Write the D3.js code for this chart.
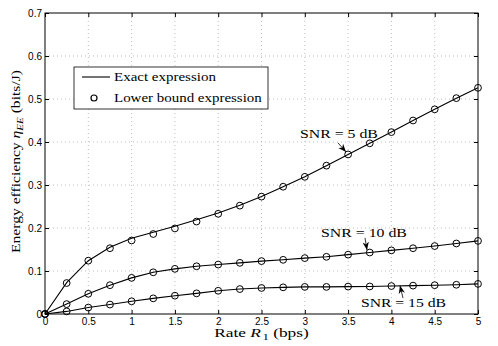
<!DOCTYPE html>
<html>
<head>
<meta charset="utf-8">
<script src="https://cdn.jsdelivr.net/npm/d3@7"></script>
<style>
  body { margin: 0; background: #fff; }
  .tick text { font-family: "Liberation Sans", Arial, sans-serif; font-size: 10px; }
  .lab { font-family: "Liberation Serif", "DejaVu Serif", serif; }
</style>
</head>
<body>
<div class="js-vis"></div>
<script>
// rate R1 (bps)
const rates = [0, 0.25, 0.5, 0.75, 1, 1.25, 1.5, 1.75, 2, 2.25, 2.5, 2.75, 3, 3.25, 3.5, 3.75, 4, 4.25, 4.5, 4.75, 5]

// exact expression (lines)
const exact5 = [0, 0.073, 0.124, 0.155, 0.176, 0.190, 0.204, 0.219, 0.235, 0.253, 0.273, 0.296, 0.319, 0.345, 0.371, 0.397, 0.423, 0.450, 0.476, 0.502, 0.526]
const exact10 = [0, 0.023, 0.047, 0.067, 0.084, 0.097, 0.105, 0.111, 0.115, 0.119, 0.123, 0.126, 0.130, 0.133, 0.138, 0.143, 0.148, 0.153, 0.158, 0.164, 0.170]
const exact15 = [0, 0.006, 0.015, 0.022, 0.0295, 0.0364, 0.0426, 0.048, 0.054, 0.058, 0.0605, 0.062, 0.063, 0.063, 0.0637, 0.064, 0.065, 0.066, 0.067, 0.068, 0.070]

// lower bound expression (circles)
const lower5 = [0, 0.072, 0.124, 0.153, 0.171, 0.186, 0.199, 0.215, 0.233, 0.252, 0.273, 0.296, 0.319, 0.345, 0.371, 0.397, 0.423, 0.450, 0.476, 0.502, 0.526]
const lower10 = exact10
const lower15 = exact15

const xTicks = [0, 0.5, 1, 1.5, 2, 2.5, 3, 3.5, 4, 4.5, 5]
const yTicks = [0, 0.1, 0.2, 0.3, 0.4, 0.5, 0.6, 0.7]

const series = [
  { name: "SNR = 5 dB", exact: exact5, lower: lower5 },
  { name: "SNR = 10 dB", exact: exact10, lower: lower10 },
  { name: "SNR = 15 dB", exact: exact15, lower: lower15 }
]

const ewidth = 498, eheight = 346
const margin = { top: 13, right: 20, bottom: 32, left: 45 },
    width = ewidth - margin.left - margin.right,
    height = eheight - margin.top - margin.bottom

const x = d3.scaleLinear().domain([0, 5]).range([0, width])
const y = d3.scaleLinear().domain([0, 0.7]).range([height, 0])

const svg = d3.select(".js-vis").append("svg")
  .attr("width", ewidth)
  .attr("height", eheight)

// the original text is set wide, so stretch each label to its measured width
function stretch(t, w) {
  const bw = t.node().getBBox().width
  t.attr("transform", (t.attr("transform") || "") + " scale(" + (w / bw) + ",1)")
}

const vis = svg.append("g")
  .attr("transform", "translate(" + margin.left + "," + margin.top + ")")

// grid
vis.append("g").selectAll("line")
  .data(xTicks.slice(1, -1))
.enter().append("line")
  .attr("x1", d => x(d)).attr("x2", d => x(d))
  .attr("y1", 0).attr("y2", height)
  .attr("stroke", "#b0b0b0").attr("stroke-width", 0.8).attr("stroke-dasharray", "1,3")
vis.append("g").selectAll("line")
  .data(yTicks.slice(1, -1))
.enter().append("line")
  .attr("y1", d => y(d)).attr("y2", d => y(d))
  .attr("x1", 0).attr("x2", width)
  .attr("stroke", "#b0b0b0").attr("stroke-width", 0.8).attr("stroke-dasharray", "1,3")

// axes (ticks inward, matlab style)
const fmt = d => d === 0 ? "0" : String(d)
vis.append("g")
  .attr("transform", "translate(0," + height + ")")
  .call(d3.axisBottom(x).tickValues(xTicks).tickFormat(fmt).tickSizeInner(-4).tickSizeOuter(0).tickPadding(4))
vis.append("g")
  .call(d3.axisTop(x).tickValues(xTicks).tickFormat("").tickSizeInner(-4).tickSizeOuter(0))
vis.append("g")
  .call(d3.axisLeft(y).tickValues(yTicks).tickFormat(fmt).tickSizeInner(-4).tickSizeOuter(0).tickPadding(3))
vis.append("g")
  .attr("transform", "translate(" + width + ",0)")
  .call(d3.axisRight(y).tickValues(yTicks).tickFormat("").tickSizeInner(-4).tickSizeOuter(0))
vis.selectAll(".domain").remove()
vis.append("rect")
  .attr("width", width).attr("height", height)
  .attr("fill", "none").attr("stroke", "#000").attr("stroke-width", 1)

// lines and markers
const line = d3.line()
  .x((d, i) => x(rates[i]))
  .y(d => y(d))

series.forEach(s => {
  vis.append("path")
    .datum(s.exact)
    .attr("d", line)
    .attr("fill", "none")
    .attr("stroke", "#000")
    .attr("stroke-width", 1.1)
  vis.append("g").selectAll("circle")
    .data(s.lower)
  .enter().append("circle")
    .attr("cx", (d, i) => x(rates[i]))
    .attr("cy", d => y(d))
    .attr("r", 3.4)
    .attr("fill", "none")
    .attr("stroke", "#000")
    .attr("stroke-width", 1)
})

// annotations
svg.append("defs").append("marker")
  .attr("id", "arr")
  .attr("viewBox", "0 0 10 10")
  .attr("refX", 10).attr("refY", 5)
  .attr("markerWidth", 8).attr("markerHeight", 8)
  .attr("markerUnits", "userSpaceOnUse")
  .attr("orient", "auto")
.append("path")
  .attr("d", "M0,1 L10,5 L0,9 L3,5 z")
  .attr("fill", "#000")

const notes = [
  { text: series[0].name, tx: 2.944, ty: 0.409, w: 78, from: [3.383, 0.398], to: [3.476, 0.377] },
  { text: series[1].name, tx: 3.187, ty: 0.179, w: 86, from: [3.695, 0.177], to: [3.718, 0.149] },
  { text: series[2].name, tx: 3.649, ty: 0.016, w: 85, from: [4.134, 0.037], to: [4.099, 0.066] }
]
notes.forEach(n => {
  const t = vis.append("text")
    .attr("class", "lab")
    .attr("transform", "translate(" + x(n.tx) + "," + y(n.ty) + ")")
    .attr("font-size", 12)
    .text(n.text)
  stretch(t, n.w)
  vis.append("line")
    .attr("x1", x(n.from[0])).attr("y1", y(n.from[1]))
    .attr("x2", x(n.to[0])).attr("y2", y(n.to[1]))
    .attr("stroke", "#000").attr("stroke-width", 0.8)
    .attr("marker-end", "url(#arr)")
})

// legend
const lg = svg.append("g").attr("transform", "translate(74,67)")
lg.append("rect")
  .attr("width", 194).attr("height", 42)
  .attr("fill", "#fff").attr("stroke", "#000").attr("stroke-width", 0.8)
lg.append("line")
  .attr("x1", 8).attr("x2", 36).attr("y1", 10).attr("y2", 10)
  .attr("stroke", "#000").attr("stroke-width", 1.1)
lg.append("circle")
  .attr("cx", 20).attr("cy", 31).attr("r", 3)
  .attr("fill", "none").attr("stroke", "#000").attr("stroke-width", 1.2)
const l1 = lg.append("text").attr("class", "lab").attr("transform", "translate(40,14)").attr("font-size", 12).text("Exact expression")
stretch(l1, 102)
const l2 = lg.append("text").attr("class", "lab").attr("transform", "translate(40,34.5)").attr("font-size", 12).text("Lower bound expression")
stretch(l2, 148)

// axis labels
const xl = svg.append("text")
  .attr("class", "lab")
  .attr("transform", "translate(" + (margin.left + width / 2) + ",337)")
  .attr("text-anchor", "middle")
  .attr("font-size", 11.5)
xl.append("tspan").text("Rate ")
xl.append("tspan").attr("font-style", "italic").text("R")
xl.append("tspan").attr("font-size", 8.5).attr("dx", 1).attr("dy", 2.5).text("1")
xl.append("tspan").attr("dy", -2.5).text(" (bps)")
stretch(xl, 95)

const yl = svg.append("text")
  .attr("class", "lab")
  .attr("transform", "translate(20,161.5) rotate(-90)")
  .attr("text-anchor", "middle")
  .attr("font-size", 12)
yl.append("tspan").text("Energy efficiency ")
yl.append("tspan").attr("font-style", "italic").text("η")
yl.append("tspan").attr("font-style", "italic").attr("font-size", 8.5).attr("dy", 2.5).text("EE")
yl.append("tspan").attr("dy", -2.5).text(" (bits/J)")
stretch(yl, 183)
</script>
</body>
</html>
